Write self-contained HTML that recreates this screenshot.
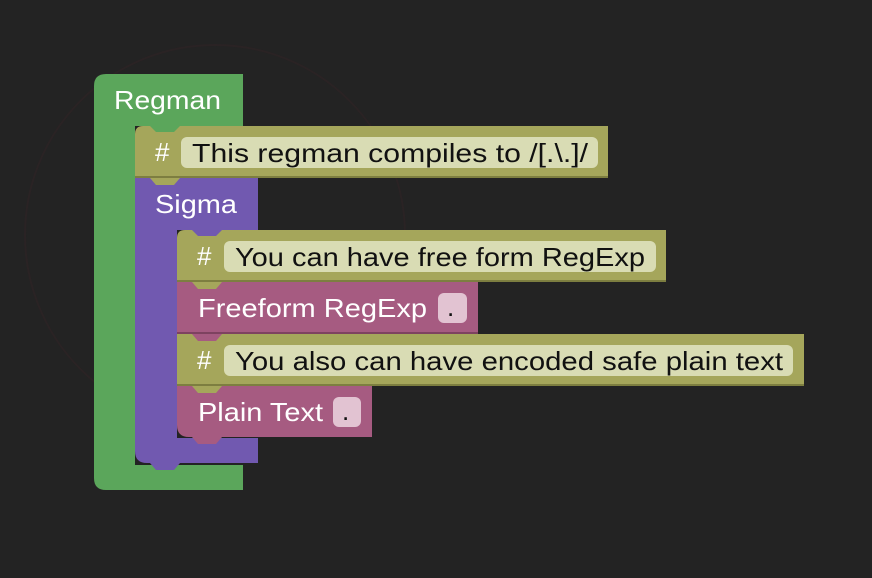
<!DOCTYPE html>
<html><head><style>
html,body{margin:0;padding:0;background:#232323;width:872px;height:578px;overflow:hidden}
svg{display:block}
text{font-family:"Liberation Sans",sans-serif;font-size:26px}
</style></head><body>
<svg width="872" height="578" viewBox="0 0 872 578">
<!-- faint watermark -->
<circle cx="215" cy="235" r="190" fill="none" stroke="#2a2324" stroke-width="2"/>
<!-- Regman green C -->
<path d="M106 74 H243 V126 H135 V465 H243 V490 H106 Q94 490 94 478 V86 Q94 74 106 74 Z" fill="#5ba65b"/>
<text x="114" y="109" fill="#fff" textLength="107" lengthAdjust="spacingAndGlyphs">Regman</text>
<!-- Sigma purple C -->
<path d="M135 178 H258 V230 H177 V438 H258 V463 H147 Q135 463 135 451 Z" fill="#7159b0"/>
<text x="155" y="213" fill="#fff" textLength="82" lengthAdjust="spacingAndGlyphs">Sigma</text>
<!-- comment 1 -->
<path d="M143 126 H608 V178 H135 V134 Q135 126 143 126 Z" fill="#a5a65b"/>
<path d="M150 126 l6 6 h18 l6 -6 Z" fill="#5ba65b"/>
<path d="M135 176 H608 V178 H135Z" fill="#7d7e40"/>
<text x="155" y="161" fill="#fff">#</text>
<rect x="181" y="137" width="417" height="31" rx="6" fill="#d9dcb4"/>
<text x="192" y="162" fill="#111" textLength="396" lengthAdjust="spacingAndGlyphs">This regman compiles to /[.\.]/</text>
<path d="M150 178 l6 7 h18 l6 -7 Z" fill="#a5a65b"/>
<!-- comment 2 -->
<path d="M185 230 H666 V282 H177 V238 Q177 230 185 230 Z" fill="#a5a65b"/>
<path d="M192 230 l6 6 h18 l6 -6 Z" fill="#7159b0"/>
<text x="197" y="265" fill="#fff">#</text>
<rect x="224" y="241" width="432" height="31" rx="6" fill="#d9dcb4"/>
<text x="235" y="266" fill="#111" textLength="410" lengthAdjust="spacingAndGlyphs">You can have free form RegExp</text>
<!-- freeform -->
<rect x="177" y="282" width="301" height="52" fill="#a65b81"/>
<path d="M192 282 l6 7 h18 l6 -7 Z" fill="#a5a65b"/>
<path d="M177 280 H666 V282 H177Z" fill="#7d7e40"/>
<text x="198" y="317" fill="#fff" textLength="229" lengthAdjust="spacingAndGlyphs">Freeform RegExp</text>
<rect x="438" y="293" width="29" height="30" rx="6" fill="#e2c3d2"/>
<text x="447" y="316" fill="#111">.</text>
<!-- comment 3 -->
<rect x="177" y="334" width="627" height="52" fill="#a5a65b"/>
<path d="M177 332 H478 V334 H177Z" fill="#7e4260"/>
<path d="M192 334 l6 7 h18 l6 -7 Z" fill="#a65b81"/>
<text x="197" y="369" fill="#fff">#</text>
<rect x="224" y="345" width="569" height="31" rx="6" fill="#d9dcb4"/>
<text x="235" y="370" fill="#111" textLength="548" lengthAdjust="spacingAndGlyphs">You also can have encoded safe plain text</text>
<!-- plain text -->
<path d="M177 386 H372 V437 H189 Q177 437 177 425 Z" fill="#a65b81"/>
<path d="M177 384 H804 V386 H177Z" fill="#7d7e40"/>
<path d="M192 386 l6 7 h18 l6 -7 Z" fill="#a5a65b"/>
<path d="M192 437 l6 7 h18 l6 -7 Z" fill="#a65b81"/>
<text x="198" y="421" fill="#fff" textLength="125" lengthAdjust="spacingAndGlyphs">Plain Text</text>
<rect x="333" y="397" width="28" height="30" rx="6" fill="#e2c3d2"/>
<text x="342" y="420" fill="#111">.</text>
<path d="M150 463 l6 7 h18 l6 -7 Z" fill="#7159b0"/>
</svg>
</body></html>
